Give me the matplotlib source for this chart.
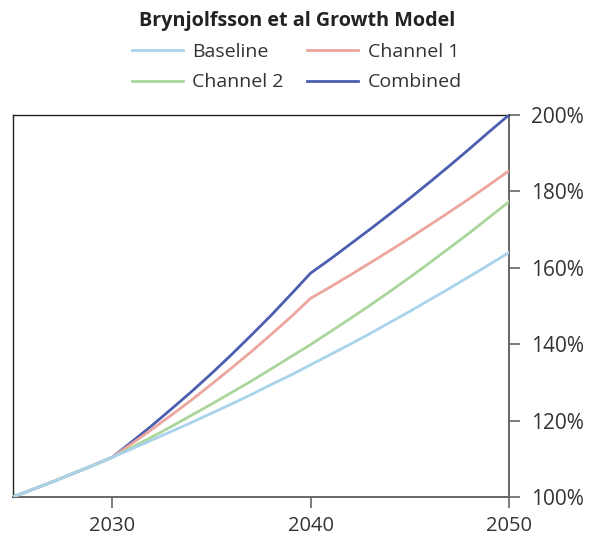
import matplotlib
matplotlib.use("Agg")
import matplotlib.pyplot as plt
from matplotlib.ticker import FuncFormatter

plt.rcParams['font.family'] = ['Open Sans', 'DejaVu Sans']

# --------------------------
# Data
# --------------------------
years = list(range(2025, 2051))

baseline = [100.0, 102.0, 104.0, 106.1, 108.2, 110.4, 112.6, 114.9, 117.2, 119.5,
            121.9, 124.3, 126.8, 129.4, 131.9, 134.6, 137.3, 140.0, 142.8, 145.7,
            148.6, 151.6, 154.6, 157.7, 160.8, 164.0]

channel2 = [100.0, 102.0, 104.0, 106.1, 108.2, 110.4, 113.0, 115.7, 118.5, 121.4,
            124.3, 127.3, 130.3, 133.5, 136.7, 139.9, 143.3, 146.7, 150.2, 153.8,
            157.5, 161.3, 165.2, 169.1, 173.2, 177.3]

channel1 = [100.0, 102.0, 104.0, 106.1, 108.2, 110.4, 114.0, 117.7, 121.5, 125.4,
            129.5, 133.7, 138.0, 142.5, 147.1, 152.0, 155.0, 158.1, 161.3, 164.5,
            167.8, 171.2, 174.6, 178.1, 181.7, 185.4]

combined = [100.0, 102.0, 104.0, 106.1, 108.2, 110.4, 114.5, 118.7, 123.1, 127.6,
            132.3, 137.2, 142.3, 147.5, 153.0, 158.6, 162.3, 166.2, 170.1, 174.1,
            178.2, 182.4, 186.7, 191.1, 195.6, 200.0]

x_ticks = [2030, 2040, 2050]
y_ticks = [100, 120, 140, 160, 180, 200]

colors = {'Baseline': '#a9d3ec', 'Channel 1': '#eca69e',
          'Channel 2': '#aad69c', 'Combined': '#4c5eb0'}

fig = plt.figure(figsize=(5.94, 5.37), dpi=100)
ax = fig.add_axes([0.0219, 0.0745, 0.8350, 0.7114])

ax.plot(years, combined, color=colors['Combined'], lw=2.0, label='Combined', zorder=3)
ax.plot(years, channel1, color=colors['Channel 1'], lw=2.0, label='Channel 1', zorder=3)
ax.plot(years, channel2, color=colors['Channel 2'], lw=2.0, label='Channel 2', zorder=3)
ax.plot(years, baseline, color=colors['Baseline'], lw=2.0, label='Baseline', zorder=4)

ax.set_xlim(2025, 2050)
ax.set_ylim(100, 200)
ax.set_xticks(x_ticks)
ax.set_yticks(y_ticks)
ax.yaxis.set_major_formatter(FuncFormatter(lambda v, p: f'{int(v)}%'))

ax.yaxis.tick_right()
ax.tick_params(axis='y', direction='out', length=8, width=1.2, color='#666666',
               labelsize=15, labelcolor='#333333', pad=8)
ax.tick_params(axis='x', direction='out', length=8, width=1.2, color='#666666',
               labelsize=14.5, labelcolor='#333333', pad=6)

for side in ['left', 'top']:
    ax.spines[side].set_color('#222222')
    ax.spines[side].set_linewidth(1.0)
for side in ['right', 'bottom']:
    ax.spines[side].set_color('#666666')
    ax.spines[side].set_linewidth(1.4)

fig.text(0.5, 0.96, 'Brynjolfsson et al Growth Model', ha='center', va='center',
         fontsize=14.2, fontweight='bold', color='#222222')

handles = {h.get_label(): h for h in ax.get_lines()}
order = ['Baseline', 'Channel 2', 'Channel 1', 'Combined']
fig.legend([handles[k] for k in order], order, ncol=2, frameon=False,
           loc='center', bbox_to_anchor=(0.5, 0.875), fontsize=14,
           handlelength=2.6, handletextpad=0.5, columnspacing=1.2,
           labelspacing=0.65, labelcolor='#333333')

plt.savefig('out.png', dpi=100)
